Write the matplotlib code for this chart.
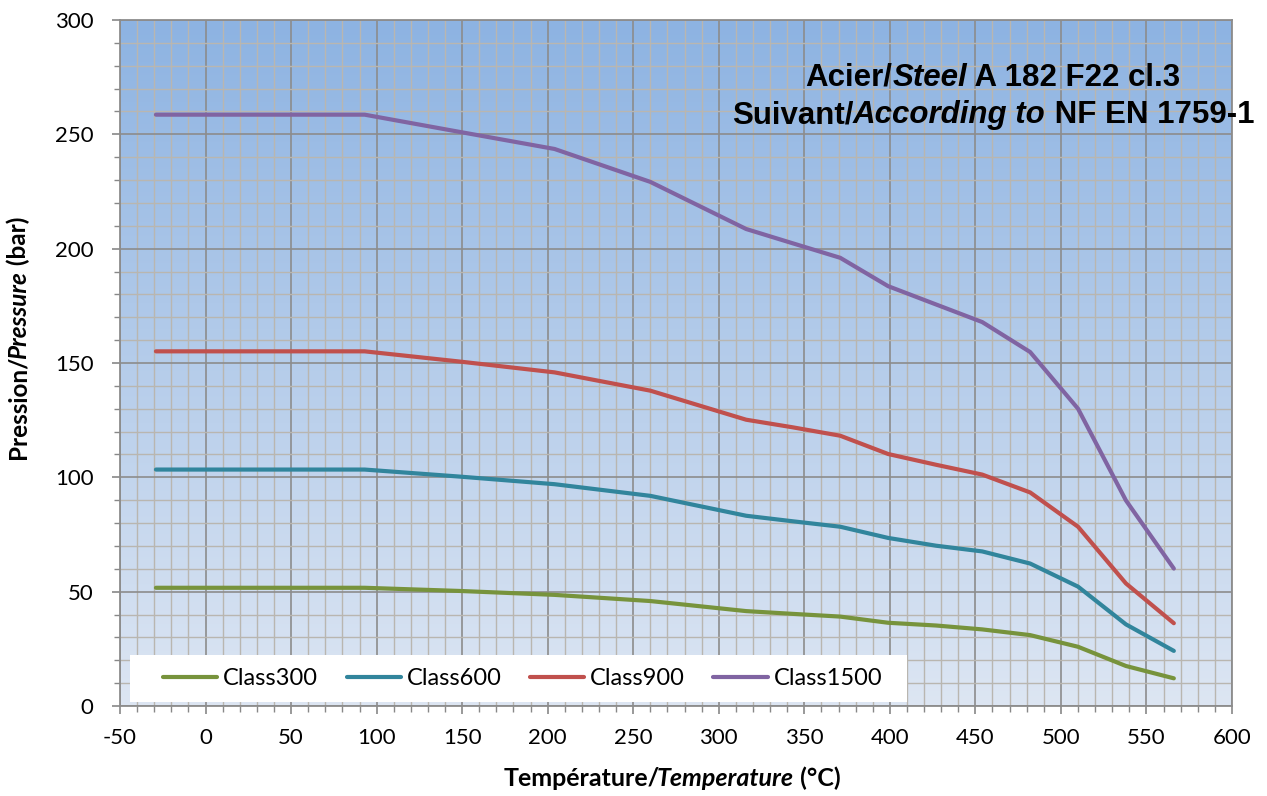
import matplotlib
matplotlib.use("Agg")
import matplotlib.pyplot as plt
import numpy as np
from matplotlib.patches import Rectangle
from matplotlib.transforms import IdentityTransform

# temperatures (°C) and pressure ratings (bar)
temps = [-29, 93, 149, 204, 260, 316, 343, 371, 399, 427, 454, 482, 510, 538, 566]
class300 = [51.7, 51.7, 50.3, 48.6, 45.9, 41.5, 40.3, 39.1, 36.4, 35.2, 33.5, 31.0, 25.9, 17.5, 12.1]
class600 = [103.4, 103.4, 100.3, 97.0, 91.9, 83.2, 80.8, 78.4, 73.5, 70.1, 67.6, 62.3, 52.2, 35.7, 24.1]
class900 = [155.1, 155.1, 150.6, 145.9, 137.9, 125.2, 121.9, 118.2, 110.2, 105.5, 101.2, 93.4, 78.4, 53.6, 36.2]
class1500 = [258.6, 258.6, 251.0, 243.6, 229.2, 208.6, 202.4, 196.0, 183.6, 175.6, 167.9, 154.8, 130.0, 89.9, 60.1]

names = ["Class300", "Class600", "Class900", "Class1500"]
colors = ["#77933C", "#31859C", "#C0504D", "#8064A2"]

plt.rcParams['font.family'] = ['Lato', 'DejaVu Sans']
plt.rcParams['axes.unicode_minus'] = False

fig = plt.figure(figsize=(12.67, 7.96), dpi=100)
ax = fig.add_axes([120/1267, 1 - 706/796, 1112/1267, 686/796])

# gradient background, blue at top fading to pale at bottom
top = np.array([141, 179, 226]) / 255
bot = np.array([221, 230, 243]) / 255
t = np.linspace(0, 1, 256)[:, None]
grad = (top * (1 - t) + bot * t)[:, None, :]
ax.imshow(grad, extent=[0, 1, 0, 1], transform=ax.transAxes, aspect='auto', zorder=0)

for name, vals, col in zip(names, [class300, class600, class900, class1500], colors):
    ax.plot(temps, vals, color=col, lw=3, label=name, solid_capstyle='round', zorder=3)

ax.set_xlim(-50, 600)
ax.set_ylim(0, 300)
ax.set_xticks(np.arange(-50, 601, 50))
ax.set_yticks(np.arange(0, 301, 50))
ax.set_xticks(np.arange(-50, 601, 10), minor=True)
ax.set_yticks(np.arange(0, 301, 10), minor=True)
ax.set_axisbelow(True)
ax.grid(which='minor', color='#B9B6B0', lw=1.0)
ax.grid(which='major', color='#8C8C8C', lw=1.2)
ax.tick_params(which='major', direction='out', length=6, width=1.2, color='#888888', labelsize=16)
ax.tick_params(which='minor', direction='out', length=4.3, width=1.0, color='#888888')
ax.tick_params(axis='x', which='major', pad=10)
ax.tick_params(axis='y', which='major', pad=13)
for s in ax.spines.values():
    s.set_color('#8C8C8C')
    s.set_linewidth(1.3)

# legend on a white box
ax.add_patch(Rectangle((10/1112, 4/686), 777/1112, 47/686, transform=ax.transAxes,
                       facecolor='white', edgecolor='none', zorder=4))
leg = ax.legend(loc='center left', bbox_to_anchor=(43/1112, 27.5/686), ncol=4, frameon=False,
                fontsize=17, handlelength=2.3, handletextpad=0.25, columnspacing=1.2,
                borderpad=0, borderaxespad=0)
leg.set_zorder(5)


def chained(parts, x, y, **kw):
    # pieces of one line in mixed upright / italic, each starting where the last ends
    first = fig.text(x, y, parts[0][0], transform=IdentityTransform(), ha='left',
                     va='baseline', fontstyle=parts[0][1], **kw)
    last = first
    for txt, style, shift in parts[1:]:
        last = ax.annotate(txt, xy=(1, 0), xycoords=last, xytext=(shift, 0),
                           textcoords='offset points', ha='left', va='bottom',
                           fontstyle=style, annotation_clip=False, **kw)
    return first, last


title_kw = dict(fontsize=22.5, fontweight='bold', family=['Liberation Sans', 'DejaVu Sans'], zorder=6)
l1 = chained([("Acier/", 'normal'), ("Steel", 'italic', 0), (" A 182 F22 cl.3", 'normal', 0)],
             0, 796 - 86, **title_kw)
l2 = chained([("Suivant/", 'normal'), ("According to", 'italic', 0), (" NF EN 1759-1", 'normal', 0)],
             0, 796 - 123, **title_kw)

xl = chained([("Température/", 'normal'), ("Temperature", 'italic', -2), (" (°C)", 'normal', 0)],
             0, 796 - 786, fontsize=18, fontweight='bold')

# y label, rotated pieces stacked upwards
y_parts = [("Pression/", 'normal'), ("Pressure", 'italic'), (" (bar)", 'normal')]
yfirst = fig.text(30, 0, y_parts[0][0], transform=IdentityTransform(), rotation=90,
                  ha='right', va='bottom', fontsize=17.5, fontweight='bold')
ylast = yfirst
for txt, style in y_parts[1:]:
    sh = -2 if style == 'italic' else 0
    ylast = ax.annotate(txt, xy=(0, 1), xycoords=ylast, xytext=(0, sh), textcoords='offset points',
                        rotation=90, ha='left', va='bottom', fontstyle=style, fontsize=17.5,
                        fontweight='bold', annotation_clip=False)

fig.canvas.draw()
r = fig.canvas.get_renderer()


def center_line(pair, cx):
    first, last = pair
    w = last.get_window_extent(r).x1 - first.get_window_extent(r).x0
    x, y = first.get_position()
    first.set_position((cx - w / 2, y))


center_line(l1, 993)
center_line(l2, 993)
center_line(xl, 672)

h = ylast.get_window_extent(r).y1 - yfirst.get_window_extent(r).y0
yfirst.set_position((30, (796 - 338) - h / 2))

fig.savefig("out.png", dpi=100)
